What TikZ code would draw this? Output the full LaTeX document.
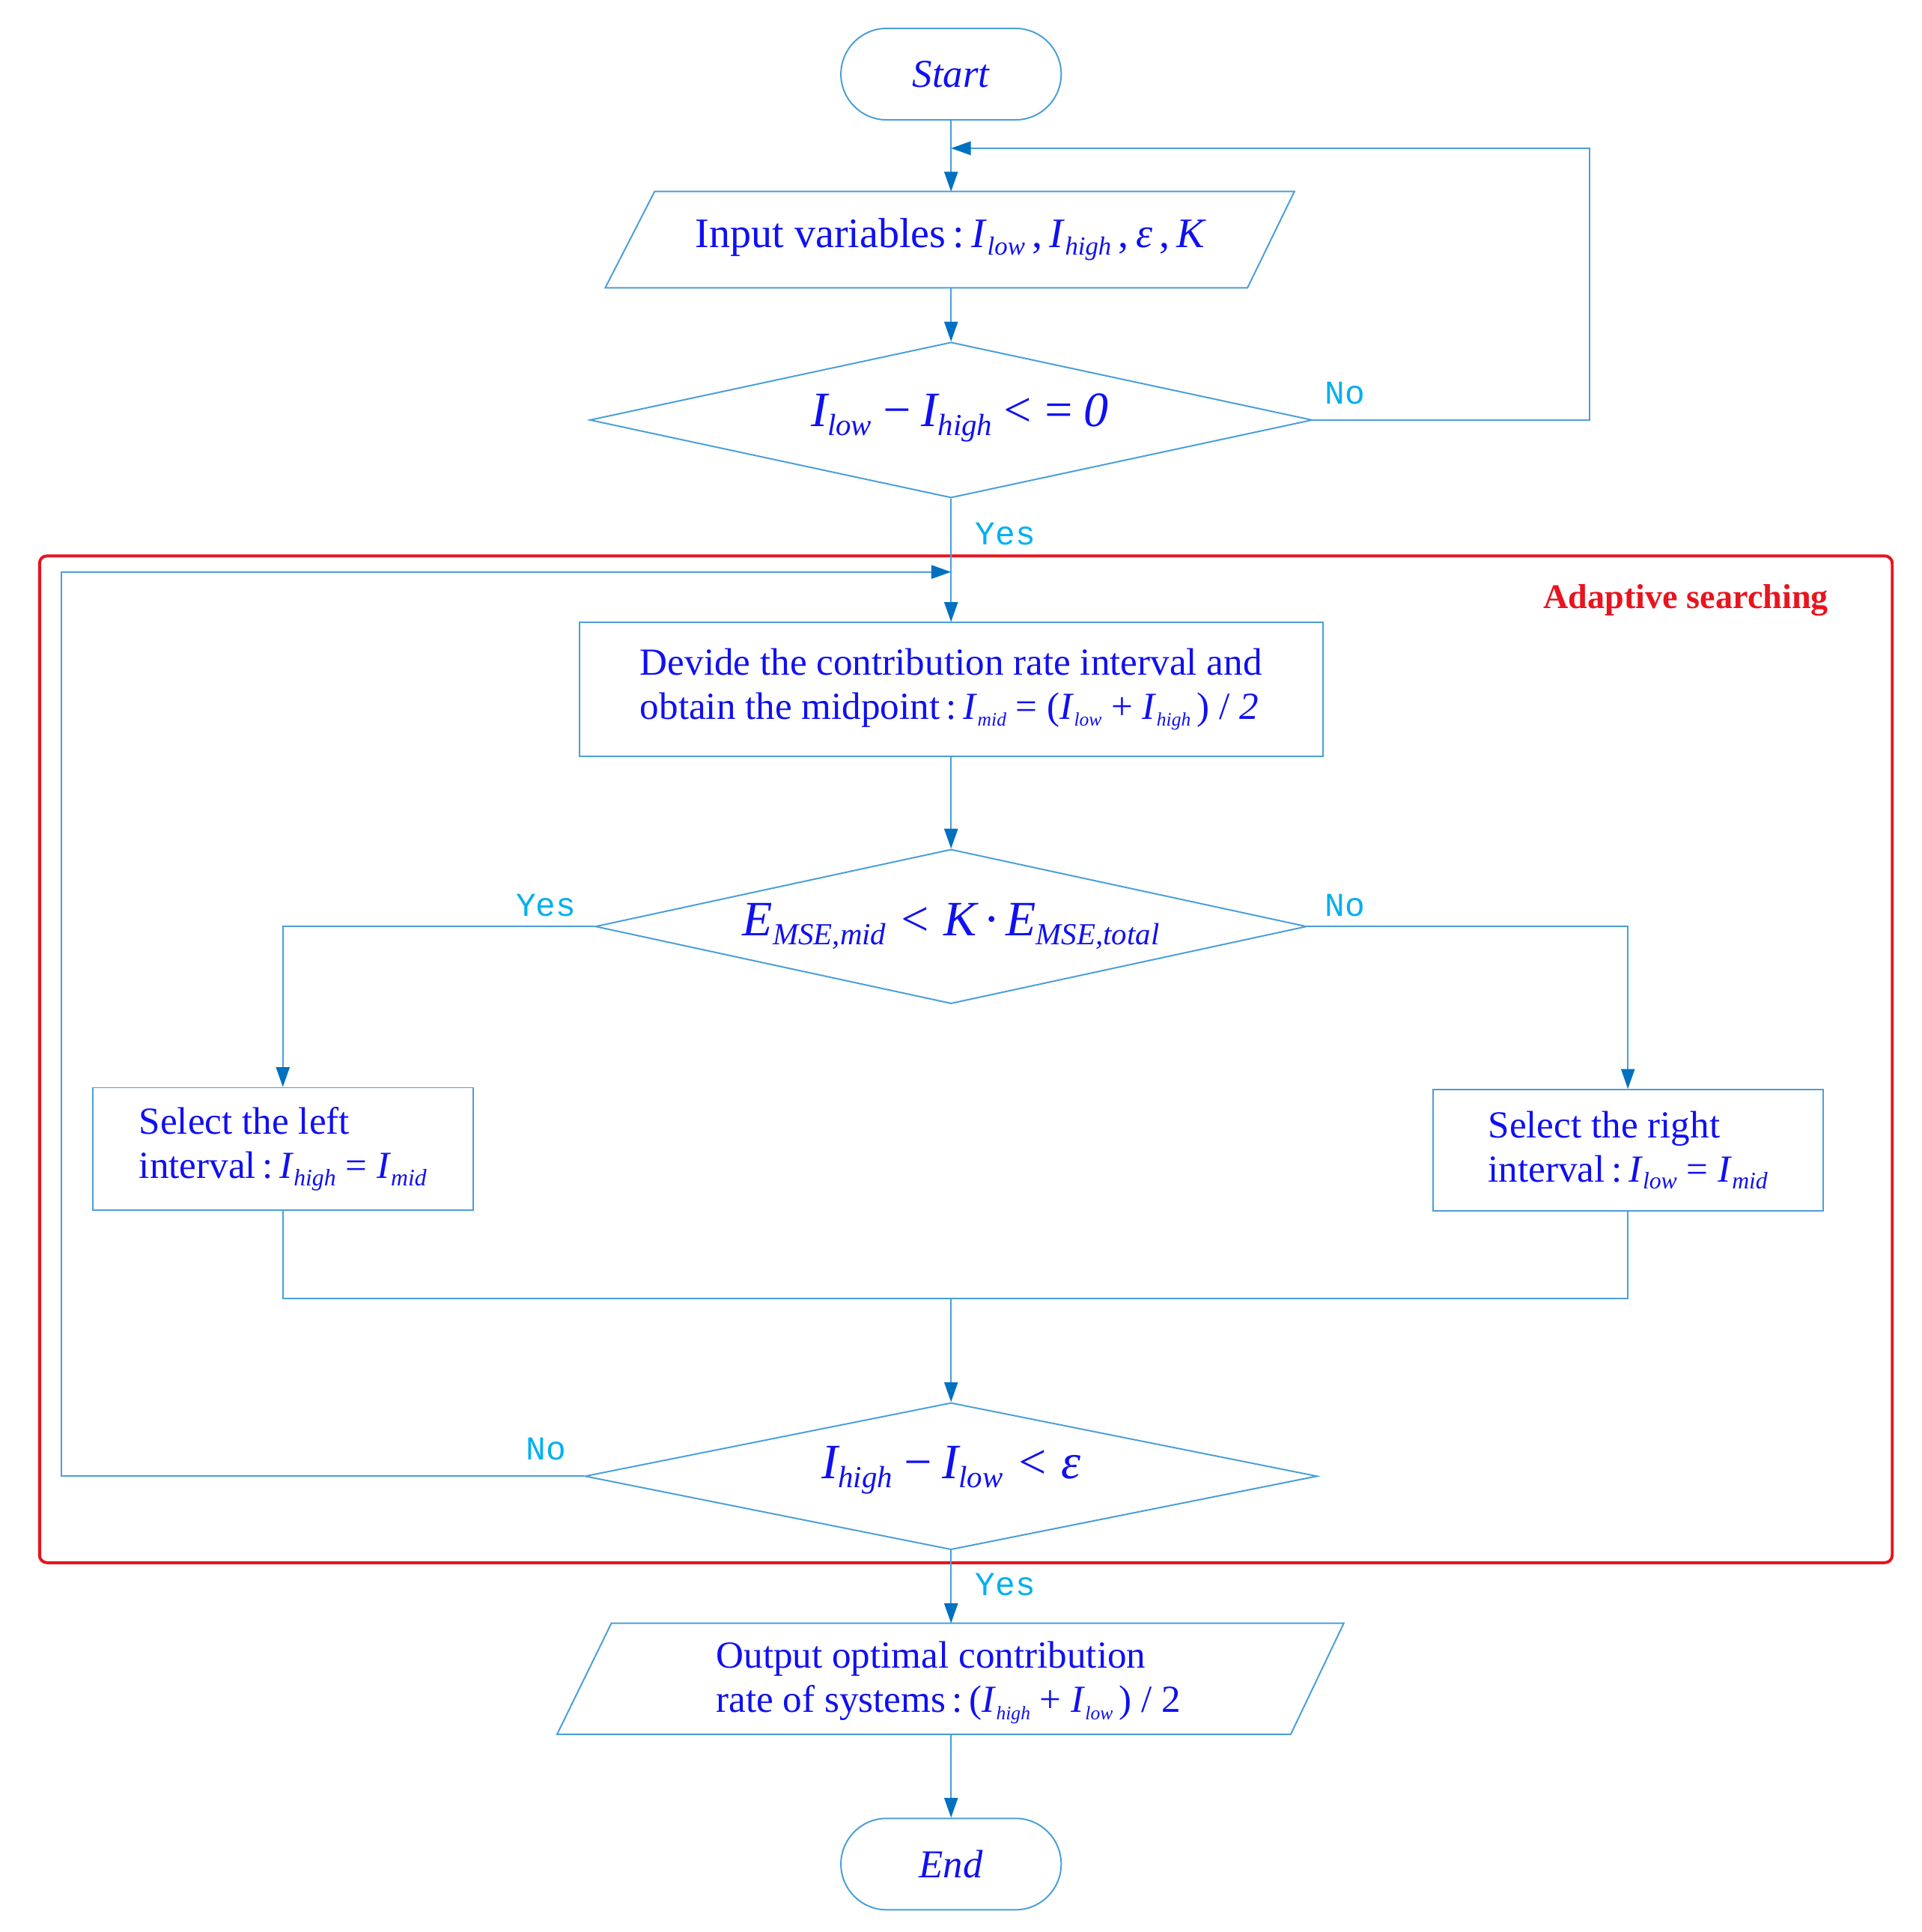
\documentclass[tikz,border=0pt]{standalone}
\usepackage{fontspec}
\setmainfont{Liberation Serif}
\newfontfamily\lblfont{Liberation Mono}
\usetikzlibrary{shapes.geometric,shapes.misc,arrows.meta}
\definecolor{ln}{HTML}{4A9FD8}
\definecolor{ar}{HTML}{0070C0}
\definecolor{tx}{HTML}{1010F0}
\definecolor{lb}{HTML}{00B0F0}
\definecolor{rd}{HTML}{E8141E}
\newcommand\sbs[1]{\raisebox{-0.4ex}{\scalebox{0.5}{\itshape #1}}}
\newcommand\sbm[1]{\raisebox{-0.4ex}{\scalebox{0.62}{\itshape #1}}}
\begin{document}
\begin{tikzpicture}[x=1pt,y=-1pt,
  every node/.style={text=tx},
  ln/.style={draw=ln,line width=1.2pt},
  arr/.style={ln,-{Triangle[length=16pt,width=11pt,color=ar]}},
  term/.style={ln,rounded rectangle,minimum width=185pt,minimum height=74pt,font=\fontsize{32}{36}\selectfont\itshape},
  dia/.style={ln,diamond,inner sep=0pt},
  box/.style={ln,rectangle,font=\fontsize{31}{36}\selectfont,align=left},
  lab/.style={text=lb,font=\lblfont\fontsize{27}{28}\selectfont}]
\useasboundingbox (0,0) rectangle (1556,1564);
% red frame
\draw[rd,line width=2.4pt,rounded corners=6pt] (32,450) rectangle (1532,1265);
\node[text=rd,font=\fontsize{28}{30}\selectfont\bfseries] (adp) at (1365,486) {Adaptive searching};
% start
\node[term] (start) at (770,60) {Start};
% input
\draw[ln] (530,155) -- (1048,155) -- (1010,233) -- (490,233) -- cycle;
\coordinate (inT) at (770,155); \coordinate (inB) at (770,233);
\node[font=\fontsize{34}{38}\selectfont] (in) at (770,194) {Input variables\,:\,\textit{I}\sbm{low}\,,\,\textit{I}\sbm{high}\,,\,\textit{ε}\,,\,\textit{K}};
% diamond 1
\node[dia,minimum width=585pt,minimum height=126pt] (d1) at (770,340) {};
\node[font=\fontsize{40}{42}\selectfont\itshape] (d1t) at (777,338) {I\sbm{low}\,−\,I\sbm{high}\,<\,=\,0};
% box 2
\node[box,minimum width=602pt,minimum height=108pt,align=left] (b2) at (770,558) {Devide the contribution rate interval and\\obtain the midpoint\,:\,\textit{I}\sbs{mid} = (\textit{I}\sbs{low} + \textit{I}\sbs{high}\,) / \textit{2}};
% diamond 2
\node[dia,minimum width=576pt,minimum height=125pt] (d2) at (770,750) {};
\node[font=\fontsize{40}{42}\selectfont\itshape] (d2t) at (770,750) {E\sbm{MSE,mid} < K\,·\,E\sbm{MSE,total}};
% left/right boxes
\node[box,minimum width=308pt,minimum height=99pt] (bl) at (229,930) {Select the left\\interval\,:\,\textit{I}\sbm{high} = \textit{I}\sbm{mid}};
\node[box,minimum width=316pt,minimum height=98pt] (br) at (1318,931) {Select the right\\interval\,:\,\textit{I}\sbm{low} = \textit{I}\sbm{mid}};
% diamond 3
\node[dia,minimum width=593pt,minimum height=119pt] (d3) at (770,1195) {};
\node[font=\fontsize{40}{42}\selectfont\itshape] (d3t) at (770,1190) {I\sbm{high}\,−\,I\sbm{low} < \textit{ε}};
% output
\draw[ln] (495,1314) -- (1088,1314) -- (1045,1404) -- (451,1404) -- cycle;
\coordinate (oT) at (770,1314); \coordinate (oB) at (770,1404);
\node[font=\fontsize{31}{36}\selectfont,align=left] (out) at (768,1362) {Output optimal contribution\\rate of systems\,:\,(\textit{I}\sbs{high} + \textit{I}\sbs{low}\,) / 2};
% end
\node[term] (end) at (770,1509) {End};
% connectors
\draw[arr] (start) -- (inT);
\draw[arr] (inB) -- (d1.north);
\coordinate (c1) at (1287,340); \coordinate (c2) at (1287,120); \coordinate (c3) at (770,120);
\draw[arr] (d1.east) -- (c1) -- (c2) -- (c3);
\draw[arr] (d1.south) -- (b2.north);
\draw[arr] (b2) -- (d2);
\draw[arr] (d2.west) -| (bl.north);
\draw[arr] (d2.east) -| (br.north);
\coordinate (m) at (770,1051);
\draw[ln] (bl.south) |- (m) -| (br.south);
\draw[arr] (m) -- (d3.north);
\coordinate (l1) at (50,1195); \coordinate (l2) at (50,463); \coordinate (l3) at (770,463);
\draw[arr] (d3.west) -- (l1) -- (l2) -- (l3);
\draw[arr] (d3.south) -- (oT);
\draw[arr] (oB) -- (end);
% labels
\node[lab] (n1) at (1089,318) {No};
\node[lab] (y1) at (814,432) {Yes};
\node[lab] (y2) at (442,733) {Yes};
\node[lab] (n2) at (1089,733) {No};
\node[lab] (n3) at (442,1173) {No};
\node[lab] (y3) at (814,1283) {Yes};
\end{tikzpicture}
\end{document}
